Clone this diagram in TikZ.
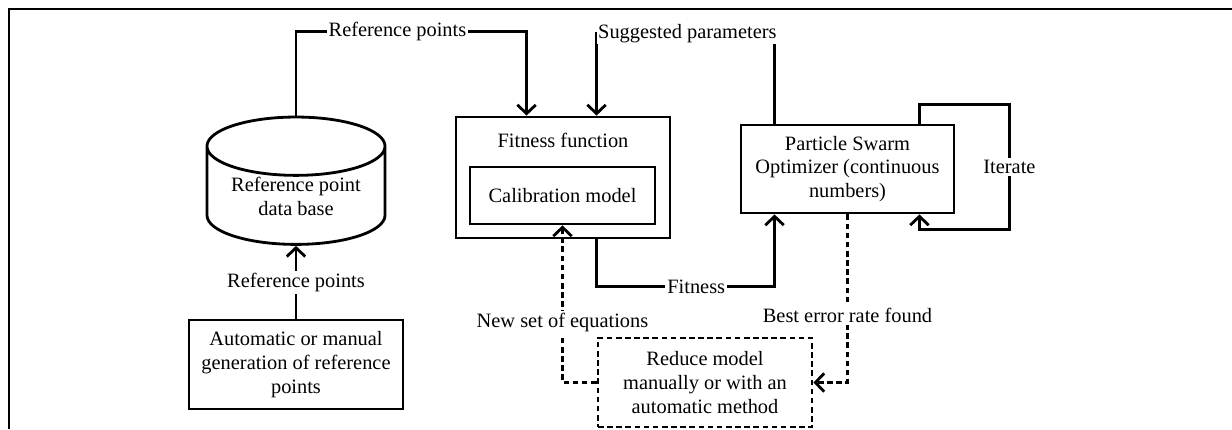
\documentclass[tikz,border=0pt]{standalone}
\usepackage{fontspec}
\setmainfont{Liberation Serif}
\usetikzlibrary{shapes.geometric, arrows.meta, calc}

\begin{document}
\begin{tikzpicture}[x=0.025cm, y=-0.025cm,
        every node/.style={font=\fontsize{14.5}{17}\selectfont},
        block/.style={draw, line width=2pt, align=center, inner sep=0},
        lbl/.style={fill=white, inner sep=1.5pt},
        arr/.style={line width=2pt, -{Straight Barb[length=2.2mm, width=4.6mm, line width=2pt]}},
        dotarr/.style={arr, dash pattern=on 4pt off 2.5pt}]
        \useasboundingbox (0,0) rectangle (1232,429);
        % Frame
        \draw[line width=2pt] (9,429) -- (9,9) -- (1232,9);

        % Blocks
        \node[block, minimum width=5.35cm, minimum height=2.225cm] (auto) at (296,364.5) {Automatic or manual\\generation of reference\\points};
        \node[block, cylinder, shape border rotate=90, aspect=0.45, minimum width=4.45cm, minimum height=2.35cm] (db) at (296,196) {Reference point\\data base};
        \node[block, minimum width=5.35cm, minimum height=3.025cm] (fit) at (563,177.5) {};
        \node (fitlbl) at (563,140) {Fitness function};
        \node[block, minimum width=4.625cm, minimum height=1.425cm] (calib) at (562.5,195.5) {Calibration model};
        \node[block, minimum width=5.325cm, minimum height=2.2cm] (pso) at (847.5,169) {Particle Swarm\\Optimizer (continuous\\numbers)};
        \node[block, dash pattern=on 4pt off 2.5pt, minimum width=5.35cm, minimum height=2.225cm] (reduce) at (705,382.5) {Reduce model\\manually or with an\\automatic method};

        % Connectors
        \draw[arr] (auto) -- node[lbl]{Reference points} (db);
        \draw[arr] (db.north) |- node[lbl, pos=0.72]{Reference points} ($(fit.north west)+(72,-84)$) -- ($(fit.north west)+(72,0)$);
        \draw[arr] ($(pso.north west)+(35,0)$) -- ++(0,-90) -| node[lbl, inner sep=0.5pt, pos=0.245]{Suggested parameters} ($(fit.north west)+(142,0)$);
        \draw[arr] ($(fit.south west)+(142,0)$) -- ++(0,47) -| node[lbl, pos=0.28]{Fitness} ($(pso.south west)+(35,0)$);
        \draw[arr] ($(pso.north east)+(-36,0)$) -- ++(0,-19) -- ++(90,0) -- node[lbl]{Iterate} ++(0,125) -| ($(pso.south east)+(-36,0)$);
        \draw[dotarr] (pso.south) |- node[lbl, pos=0.3]{Best error rate found} (reduce.east);
        \draw[dotarr] (reduce.west) -| node[lbl, pos=0.69]{New set of equations} (calib.south);
\end{tikzpicture}
\end{document}
